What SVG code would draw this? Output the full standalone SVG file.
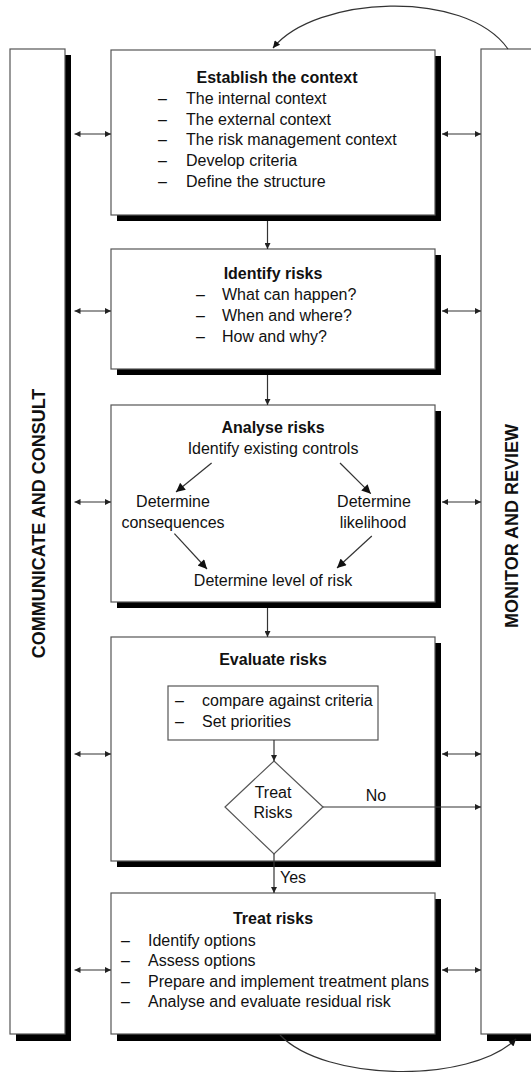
<svg xmlns="http://www.w3.org/2000/svg" width="531" height="1072" viewBox="0 0 531 1072">
<style>
.shadow{fill:#000}
.panel{fill:#fff;stroke:#555;stroke-width:1.2}
.t{font-family:"Liberation Sans",Arial,sans-serif;font-size:16px;fill:#111}
.b{font-weight:bold}
.m{text-anchor:middle}
.side{font-family:"Liberation Sans",Arial,sans-serif;font-size:18px;font-weight:bold;fill:#111;text-anchor:middle}
.ln{fill:none;stroke:#333;stroke-width:1.2}
</style>
<defs>
<marker id="ah" viewBox="0 0 10 10" refX="10" refY="5" markerUnits="userSpaceOnUse" markerWidth="8" markerHeight="6" orient="auto-start-reverse">
<path d="M0,0 L10,5 L0,10 z" fill="#222"/>
</marker>
<marker id="big" viewBox="0 0 10 10" refX="10" refY="5" markerUnits="userSpaceOnUse" markerWidth="12" markerHeight="9" orient="auto">
<path d="M0,0 L10,5 L0,10 z" fill="#111"/>
</marker>
<marker id="mid" viewBox="0 0 10 10" refX="10" refY="5" markerUnits="userSpaceOnUse" markerWidth="10" markerHeight="7" orient="auto">
<path d="M0,0 L10,5 L0,10 z" fill="#111"/>
</marker>
</defs>

<g id="communicate-consult">
<rect class="shadow" x="16" y="55" width="55" height="986"/>
<rect class="panel" x="10" y="49" width="55" height="985"/>
<text class="side" transform="translate(45,523.5) rotate(-90)">COMMUNICATE AND CONSULT</text>
</g>

<g id="monitor-review">
<rect class="shadow" x="487" y="55" width="60" height="986"/>
<rect class="panel" x="481" y="49" width="60" height="985"/>
<text class="side" transform="translate(518,526) rotate(-90)">MONITOR AND REVIEW</text>
</g>

<g id="establish-context">
<rect class="shadow" x="117" y="56" width="324" height="165"/>
<rect class="panel" x="111" y="50" width="324" height="165"/>
<text class="t b m" x="277" y="83">Establish the context</text>
<text class="t" x="158" y="104">–</text><text class="t" x="186" y="104">The internal context</text>
<text class="t" x="158" y="125">–</text><text class="t" x="186" y="125">The external context</text>
<text class="t" x="158" y="145">–</text><text class="t" x="186" y="145">The risk management context</text>
<text class="t" x="158" y="166">–</text><text class="t" x="186" y="166">Develop criteria</text>
<text class="t" x="158" y="187">–</text><text class="t" x="186" y="187">Define the structure</text>
</g>

<g id="identify-risks">
<rect class="shadow" x="117" y="255" width="324" height="120"/>
<rect class="panel" x="111" y="249" width="324" height="120"/>
<text class="t b m" x="273" y="279">Identify risks</text>
<text class="t" x="196" y="300">–</text><text class="t" x="222" y="300">What can happen?</text>
<text class="t" x="196" y="321">–</text><text class="t" x="222" y="321">When and where?</text>
<text class="t" x="196" y="342">–</text><text class="t" x="222" y="342">How and why?</text>
</g>

<g id="analyse-risks">
<rect class="shadow" x="117" y="411" width="324" height="197"/>
<rect class="panel" x="111" y="405" width="324" height="197"/>
<text class="t b m" x="273" y="433">Analyse risks</text>
<text class="t m" x="273" y="454">Identify existing controls</text>
<text class="t m" x="173" y="507">Determine</text>
<text class="t m" x="173" y="528">consequences</text>
<text class="t m" x="374" y="507">Determine</text>
<text class="t m" x="373" y="528">likelihood</text>
<text class="t m" x="273" y="586">Determine level of risk</text>
</g>

<g id="evaluate-risks">
<rect class="shadow" x="117" y="643" width="324" height="224"/>
<rect class="panel" x="111" y="637" width="324" height="224"/>
<text class="t b m" x="273" y="665">Evaluate risks</text>
<rect class="panel" x="168" y="686" width="210" height="54"/>
<text class="t" x="175" y="706">–</text><text class="t" x="202" y="706">compare against criteria</text>
<text class="t" x="175" y="727">–</text><text class="t" x="202" y="727">Set priorities</text>
</g>

<g id="treat-decision">
<polygon class="panel" points="274,761 323,807 274,854 225,807"/>
<text class="t m" x="273" y="798">Treat</text>
<text class="t m" x="273" y="818">Risks</text>
</g>

<g id="treat-risks">
<rect class="shadow" x="117" y="899" width="324" height="142"/>
<rect class="panel" x="111" y="893" width="324" height="141"/>
<text class="t b m" x="273" y="924">Treat risks</text>
<text class="t" x="121" y="946">–</text><text class="t" x="148" y="946">Identify options</text>
<text class="t" x="121" y="966">–</text><text class="t" x="148" y="966">Assess options</text>
<text class="t" x="121" y="987">–</text><text class="t" x="148" y="987">Prepare and implement treatment plans</text>
<text class="t" x="121" y="1007">–</text><text class="t" x="148" y="1007">Analyse and evaluate residual risk</text>
</g>

<g id="connectors">
<line class="ln" x1="267.5" y1="221" x2="267.5" y2="249" marker-end="url(#ah)"/>
<line class="ln" x1="267.5" y1="375" x2="267.5" y2="405" marker-end="url(#ah)"/>
<line class="ln" x1="267.5" y1="608" x2="267.5" y2="637" marker-end="url(#ah)"/>
<line class="ln" x1="274" y1="740" x2="274" y2="761" marker-end="url(#ah)"/>
<line class="ln" x1="274" y1="854" x2="274" y2="893" marker-end="url(#ah)"/>
<line class="ln" x1="323" y1="807" x2="481" y2="807" marker-end="url(#ah)"/>
<text class="t m" x="376" y="801">No</text>
<text class="t" x="280" y="883">Yes</text>

<line class="ln" x1="211.6" y1="463" x2="176" y2="492" marker-end="url(#big)"/>
<line class="ln" x1="340" y1="463" x2="370.8" y2="493.7" marker-end="url(#big)"/>
<line class="ln" x1="174.4" y1="533.7" x2="207" y2="569" marker-end="url(#big)"/>
<line class="ln" x1="371.8" y1="536" x2="337" y2="568" marker-end="url(#big)"/>

<line class="ln" x1="74.5" y1="134" x2="111" y2="134" marker-start="url(#ah)" marker-end="url(#ah)"/>
<line class="ln" x1="74.5" y1="311" x2="111" y2="311" marker-start="url(#ah)" marker-end="url(#ah)"/>
<line class="ln" x1="74.5" y1="502" x2="111" y2="502" marker-start="url(#ah)" marker-end="url(#ah)"/>
<line class="ln" x1="74.5" y1="754" x2="111" y2="754" marker-start="url(#ah)" marker-end="url(#ah)"/>
<line class="ln" x1="74.5" y1="970" x2="111" y2="970" marker-start="url(#ah)" marker-end="url(#ah)"/>
<line class="ln" x1="442" y1="134" x2="481" y2="134" marker-start="url(#ah)" marker-end="url(#ah)"/>
<line class="ln" x1="442" y1="311" x2="481" y2="311" marker-start="url(#ah)" marker-end="url(#ah)"/>
<line class="ln" x1="442" y1="502" x2="481" y2="502" marker-start="url(#ah)" marker-end="url(#ah)"/>
<line class="ln" x1="442" y1="754" x2="481" y2="754" marker-start="url(#ah)" marker-end="url(#ah)"/>
<line class="ln" x1="442" y1="970" x2="481" y2="970" marker-start="url(#ah)" marker-end="url(#ah)"/>

<path class="ln" d="M508,49 C465,-12 315,-4 273,48" marker-end="url(#mid)"/>
<path class="ln" d="M280,1035 C325,1082 470,1084 516,1039" marker-end="url(#mid)"/>
</g>
</svg>
